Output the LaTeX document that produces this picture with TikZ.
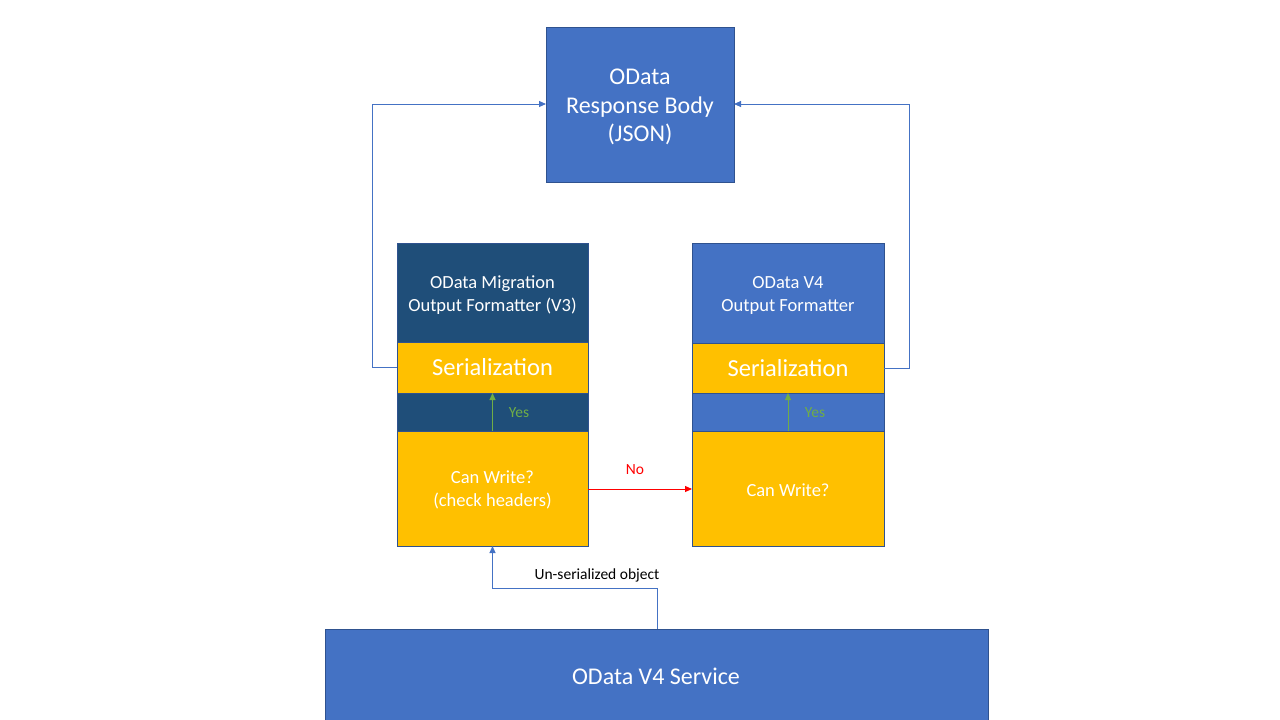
\documentclass[tikz,border=0pt]{standalone}
\usepackage{fontspec}
\setmainfont{Carlito}
\usetikzlibrary{arrows.meta}
\definecolor{dblue}{HTML}{1F4E79}
\definecolor{mblue}{HTML}{4472C4}
\definecolor{bord}{HTML}{2F528F}
\definecolor{gold}{HTML}{FFC000}
\definecolor{ygreen}{HTML}{70AD47}
\definecolor{nored}{HTML}{FF0000}
\tikzset{
  blk/.style={draw=bord, line width=0.9pt, inner sep=0pt, outer sep=0pt, anchor=north west, text=white, align=center},
  conn/.style={draw=mblue, line width=0.9pt, -{Triangle[length=7pt,width=6pt]}},
  yesarr/.style={draw=ygreen, line width=0.9pt, -{Triangle[length=7pt,width=6pt]}},
  noarr/.style={draw=nored, line width=0.9pt, -{Triangle[length=7pt,width=6pt]}},
  lbl/.style={font=\fontsize{15.5}{18}\selectfont, inner sep=0pt}
}
\begin{document}
\begin{tikzpicture}[x=1pt,y=-1pt]
\useasboundingbox (0,0) rectangle (1280,720);
\begin{scope}
\clip (0,0) rectangle (1280,720);
% top box
\node[blk, fill=mblue, minimum width=188pt, minimum height=155pt] (resp) at (546,27) {};
\node[text=white, align=center, inner sep=0pt, font=\fontsize{24}{28.5}\selectfont] (resptext) at (640,107) {OData\\Response Body\\(JSON)};
% left column
\node[blk, fill=dblue, minimum width=191pt, minimum height=99pt] (lhead) at (397,243) {};
\node[text=white, align=center, inner sep=0pt, font=\fontsize{18.5}{23}\selectfont] (lheadtext) at (492.5,295) {OData Migration\\Output Formatter (V3)};
\node[blk, fill=gold, minimum width=191pt, minimum height=51pt, font=\fontsize{24.5}{28}\selectfont] (lser) at (397,342) {Serialization};
\node[blk, fill=dblue, minimum width=191pt, minimum height=38pt] (lstrip) at (397,393) {};
\node[blk, fill=gold, minimum width=191pt, minimum height=115pt] (lcan) at (397,431) {};
\node[text=white, align=center, inner sep=0pt, font=\fontsize{18.5}{23}\selectfont] (lcantext) at (492.5,490) {Can Write?\\(check headers)};
% right column
\node[blk, fill=mblue, minimum width=192pt, minimum height=100pt] (rhead) at (692,243) {};
\node[text=white, align=center, inner sep=0pt, font=\fontsize{18.5}{23}\selectfont] (rheadtext) at (788,295) {OData V4\\Output Formatter};
\node[blk, fill=gold, minimum width=192pt, minimum height=50pt, font=\fontsize{24.5}{28}\selectfont] (rser) at (692,343) {Serialization};
\node[blk, fill=mblue, minimum width=192pt, minimum height=38pt] (rstrip) at (692,393) {};
\node[blk, fill=gold, minimum width=192pt, minimum height=115pt] (rcan) at (692,431) {};
\node[text=white, align=center, inner sep=0pt, font=\fontsize{18.5}{23}\selectfont] (rcantext) at (788,490) {Can Write?};
% service
\node[blk, fill=mblue, minimum width=663pt, minimum height=100pt] (svc) at (325,629) {};
\node[text=white, font=\fontsize{24}{28}\selectfont, inner sep=0pt] (svctext) at (656,676) {OData V4 Service};
\end{scope}
% yes arrows
\draw[yesarr] (lcan.north) -- (lser.south);
\draw[yesarr] (rcan.north) -- (rser.south);
\node[lbl, text=ygreen] (lyes) at (519,413) {Yes};
\node[lbl, text=ygreen] (ryes) at (815,413) {Yes};
% no arrow
\draw[noarr] (lcan.east |- 0,489) -- (rcan.west |- 0,489);
\node[lbl, text=nored] (nolbl) at (635,470) {No};
% feedback arrows
\draw[conn] (lser.west) -- ++(-25,0) |- (resp.west |- 0,104);
\draw[conn] (rser.east) -- ++(25,0) |- (resp.east |- 0,104);
% service to left
\coordinate (sv) at (657,629);
\draw[conn] (sv) -- (657,588) -| (lcan.south);
\node[lbl, text=black] (unser) at (597,575) {Un-serialized object};
\end{tikzpicture}
\end{document}
